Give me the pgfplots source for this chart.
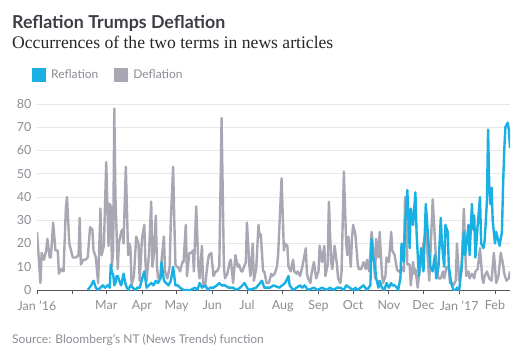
\documentclass[border=0pt]{standalone}
\usepackage{pgfplots}
\pgfplotsset{compat=1.18}
\usepackage{fontspec}
\setmainfont{Lato}
\newfontfamily\subfont{Liberation Serif}
\definecolor{refl}{HTML}{1AB0E3}
\definecolor{defl}{HTML}{A8A7B4}
\definecolor{titlec}{HTML}{3D3D45}
\definecolor{lab}{HTML}{8C8C94}
\definecolor{gridc}{HTML}{E8E8EA}
\definecolor{axc}{HTML}{55555C}
\begin{document}
\begin{tikzpicture}
\useasboundingbox (0bp,0bp) rectangle (523bp,-353bp);
\node[anchor=base west, inner sep=0, font=\fontsize{17.8bp}{20bp}\selectfont\bfseries, text=titlec] at (12bp,-28bp) {Reflation Trumps Deflation};
\node[anchor=base west, inner sep=0, font=\subfont\fontsize{17.6bp}{19bp}\selectfont, text=black!85] at (12bp,-48bp) {Occurrences of the two terms in news articles};
\node[anchor=base west, inner sep=0, font=\fontsize{12bp}{14bp}\selectfont, text=lab] at (12bp,-343bp) {Source: Bloomberg's NT (News Trends) function};
\begin{axis}[
  at={(37bp,-290bp)}, anchor=south west,
  scale only axis, width=473bp, height=186bp,
  xmin=0, xmax=410, ymin=0, ymax=80,
  axis x line*=bottom, axis y line*=left,
  y axis line style={draw=none},
  x axis line style={draw=axc, line width=0.8bp},
  xtick={0,31,60,91,121,152,182,213,244,274,305,335,366,397},
  xticklabels={Jan '16,,Mar,Apr,May,Jun,Jul,Aug,Sep,Oct,Nov,Dec,Jan '17,Feb},
  ytick={0,10,...,80},
  tick align=outside, major tick length=4bp,
  x tick style={draw=axc, line width=0.8bp},
  y tick style={draw=none},
  ymajorgrids, grid style={draw=gridc, line width=0.8bp},
  /pgf/number format/assume math mode=true,
  tick label style={font=\fontsize{12.5bp}{14bp}\selectfont, text=lab},
  xticklabel style={yshift=-3bp},
  yticklabel style={xshift=2bp},
  legend style={at={(rel axis cs:-0.017,1.205)}, anchor=north west, draw=none, fill=none,
    font=\fontsize{12bp}{14bp}\selectfont, text=lab, legend columns=2,
    /tikz/every odd column/.append style={column sep=3bp},
    /tikz/every even column/.append style={column sep=14bp}},
  legend image code/.code={\fill[#1,draw=none] (0bp,-7bp) rectangle (14bp,7bp);},
  every axis plot/.append style={line width=2.4bp, line join=round}
]
\addplot[defl, forget plot] coordinates {
(0,25)(3,3)(4,16)(6,13)(8,17)(9,22)(11,14)(12,14)(14,29)(16,17)(18,17)(19,7)(21,9)(23,8)(25,35)(26,40)(28,20)(30,16)(31,14)(34,14)(36,15)(37,31)(38,11)(40,13)(42,13)(44,14)(46,27)(48,26)(49,17)(51,14)(53,3)(55,35)(56,15)(58,19)(60,55)(62,19)(63,37)(64,36)(65,10)(66,17)(67,78)(68,40)(70,9)(71,20)(73,25)(74,26)(75,20)(77,53)(79,15)(80,20)(81,18)(82,2)(84,6)(86,23)(88,20)(89,4)(91,22)(93,28)(94,12)(95,4)(97,15)(99,38)(100,10)(101,14)(103,32)(104,10)(105,5)(107,5)(108,13)(110,23)(111,8)(113,5)(115,10)(116,30)(118,53)(119,30)(120,11)(121,10)(122,10)(124,8)(126,12)(127,12)(129,28)(130,6)(132,16)(134,16)(135,17)(136,8)(138,36)(140,9)(141,5)(143,19)(144,2)(146,3)(148,12)(149,15)(151,16)(153,6)(155,8)(156,8)(158,10)(160,74)(162,10)(163,5)(165,7)(167,12)(168,13)(170,3)(172,15)(174,10)(175,11)(177,8)(178,8)(181,12)(182,29)(184,11)(185,6)(187,20)(188,4)(190,9)(192,28)(193,23)(194,24)(196,8)(197,8)(199,3)(201,3)(203,7)(204,6)(206,7)(208,10)(209,15)(212,48)(214,17)(215,20)(217,19)(218,10)(220,8)(221,11)(222,13)(223,8)(225,7)(226,8)(228,6)(230,10)(233,18)(234,7)(235,5)(237,3)(238,7)(240,12)(242,5)(244,8)(245,19)(247,12)(249,19)(250,6)(252,11)(253,38)(255,12)(256,9)(258,19)(260,11)(261,5)(263,3)(264,8)(266,51)(268,20)(269,15)(270,23)(272,10)(273,22)(274,28)(276,24)(278,11)(279,9)(281,9)(283,12)(285,9)(286,13)(288,8)(290,25)(291,20)(293,5)(294,22)(296,14)(297,25)(299,7)(300,3)(302,6)(303,14)(305,12)(307,25)(308,17)(310,15)(312,9)(313,8)(315,8)(316,10)(318,8)(319,40)(320,36)(321,11)(323,11)(324,2)(326,12)(327,7)(328,9)(330,1)(331,6)(333,12)(335,20)(337,25)(338,19)(340,4)(341,15)(343,39)(345,21)(346,12)(348,5)(350,5)(352,8)(353,5)(355,10)(357,9)(358,3)(360,3)(361,2)(363,4)(364,20)(366,4)(368,8)(370,35)(371,20)(372,6)(374,8)(375,5)(377,7)(379,5)(380,8)(382,9)(384,18)(386,5)(387,3)(388,6)(390,8)(392,5)(394,4)(396,16)(397,10)(398,3)(400,6)(402,16)(404,11)(405,7)(407,4)(409,5)(410,8)
};
\addplot[refl] coordinates {
(44,0)(47,2)(49,4)(51,1)(53,0)(55,1)(57,2)(59,1)(61,2)(63,1)(64,11)(65,7)(66,7)(67,2)(68,3)(69,6)(70,6)(72,3)(73,2)(75,7)(77,2)(79,0)(81,2)(83,1)(85,0)(87,1)(89,1)(93,8)(95,1)(97,2)(99,3)(101,2)(103,4)(105,3)(107,5)(108,12)(110,4)(112,3)(114,2)(116,4)(118,10)(120,2)(122,2)(124,1)(127,0)(130,0)(133,0)(137,1)(139,0)(141,3)(143,1)(146,2)(148,0)(150,1)(153,1)(156,2)(158,3)(160,2)(163,2)(166,1)(170,1)(173,0)(176,1)(180,3)(182,1)(184,0)(190,1)(195,4)(197,1)(202,1)(205,2)(210,1)(215,3)(218,6)(219,2)(222,0)(225,1)(228,2)(230,1)(232,2)(235,0)(240,1)(243,0)(247,1)(251,0)(254,1)(257,0)(260,1)(263,1)(266,0)(268,2)(271,1)(274,0)(276,1)(278,0)(283,2)(286,0)(289,2)(290,22)(291,15)(293,10)(294,5)(296,1)(297,4)(299,1)(301,0)(303,3)(305,1)(307,3)(308,2)(310,2)(312,1)(313,0)(315,5)(316,20)(318,12)(319,28)(321,43)(322,30)(323,18)(324,35)(326,28)(328,42)(329,25)(331,6)(333,18)(334,15)(335,8)(337,37)(338,30)(340,16)(341,10)(343,8)(344,12)(345,15)(346,5)(348,10)(350,31)(351,20)(353,10)(354,28)(356,25)(357,10)(359,3)(361,0)(363,0)(364,1)(366,0)(368,10)(370,25)(371,15)(373,23)(374,28)(375,15)(377,37)(378,26)(379,32)(380,14)(382,28)(384,40)(385,20)(387,18)(388,21)(390,38)(391,69)(392,45)(393,37)(394,44)(395,30)(397,20)(398,25)(400,21)(401,19)(403,25)(404,45)(405,60)(406,70)(408,72)(409,69)(410,61)
};
\addlegendentry{Reflation}
\addlegendimage{defl}
\addlegendentry{Deflation}
\end{axis}
\end{tikzpicture}
\end{document}
